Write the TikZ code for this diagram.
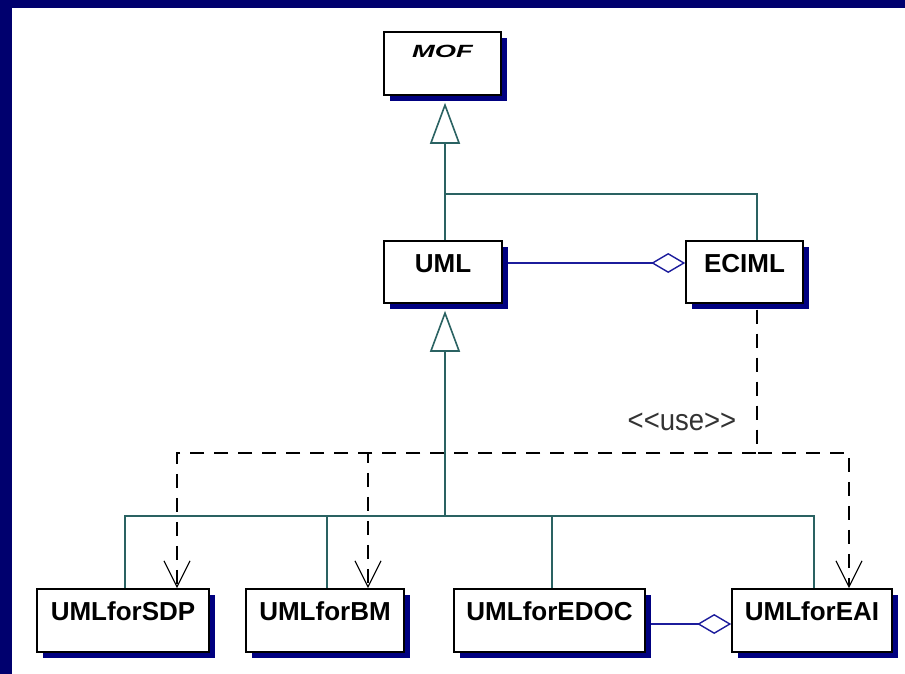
\documentclass[tikz,border=0pt]{standalone}
\usepackage{graphicx}
\usepackage{fontspec}
\setmainfont{Liberation Sans}
\usetikzlibrary{arrows.meta,calc,shadows}
\definecolor{navyb}{HTML}{00006E}
\definecolor{shad}{HTML}{000080}
\definecolor{teal2}{HTML}{2A6262}
\definecolor{aggc}{HTML}{1C1C9C}
\tikzset{
 cls/.style={draw=black, line width=1.6pt, fill=white, inner sep=0pt,
   text height=20pt, text depth=20pt,
   font=\fontsize{26}{26}\selectfont\bfseries,
   general shadow={fill=shad, shadow xshift=6pt, shadow yshift=-6pt}},
 gen/.style={draw=teal2, line width=1.6pt},
 genarrow/.style={gen, -{Triangle[open, length=41pt, width=30pt, fill=white]}},
 agg/.style={draw=aggc, line width=1.4pt, -{Diamond[open, length=34pt, width=20pt, fill=white]}},
 dep/.style={draw=black, line width=1.6pt, dash pattern=on 14pt off 10pt,
   -{Straight Barb[length=26pt, width=26pt, line width=1.2pt]}},
 lbl/.style={inner sep=0pt, text=black!80, font=\fontsize{25}{25}\selectfont}
}
\begin{document}
\begin{tikzpicture}[x=1pt,y=-1pt]
\useasboundingbox (0,0) rectangle (905,674);
\fill[white] (0,0) rectangle (905,674);
\fill[navyb] (0,0) rectangle (905,8);
\fill[navyb] (0,0) rectangle (12,674);

% classes
\node[cls, minimum width=117pt, minimum height=63pt, text height=13pt, text depth=24pt] (mof) at (442.5,63.5) {\itshape\scalebox{1.05}[0.68]{MOF}};
\node[cls, minimum width=118pt, minimum height=62pt] (uml) at (443,272) {UML};
\node[cls, minimum width=117pt, minimum height=62pt] (eciml) at (744.5,272) {ECIML};
\node[cls, minimum width=172pt, minimum height=63pt] (sdp) at (123,620.5) {UMLforSDP};
\node[cls, minimum width=158pt, minimum height=63pt] (bm) at (325,620.5) {UMLforBM};
\node[cls, minimum width=191pt, minimum height=63pt] (edoc) at (549.5,620.5) {UMLforEDOC};
\node[cls, minimum width=160pt, minimum height=63pt] (eai) at (812,620.5) {UMLforEAI};

% generalization to MOF
\coordinate (j1) at (445,194);
\draw[gen] ($(eciml.north)+(12.5,0)$) |- (j1);
\draw[genarrow, shorten >=7pt] (uml.north -| j1) -- (mof.south -| j1);

% generalization to UML
\coordinate (j2) at (445,516);
\draw[gen] ($(sdp.north)+(2,0)$) |- (j2);
\draw[gen] ($(bm.north)+(2,0)$) |- (j2);
\draw[gen] ($(edoc.north)+(2.5,0)$) |- (j2);
\draw[gen] ($(eai.north)+(2,0)$) |- (j2);
\draw[genarrow, shorten >=7pt] (j2) -- (uml.south -| j2);

% aggregations
\draw[agg] ($(uml.east)+(5,-9)$) -- ($(eciml.west)+(0,-9)$);
\draw[agg] ($(edoc.east)+(5,3.5)$) -- ($(eai.west)+(0,3.5)$);

% dependencies
\coordinate (d0) at ($(eciml.south)+(12.5,6)$);
\coordinate (dj) at ($(d0)+(0,143)$);
\draw[dep] (d0) -- (dj) -| ($(sdp.north)+(54,0)$);
\draw[dep] (d0) -- (dj) -| ($(bm.north)+(43,0)$);
\draw[dep] (d0) -- (dj) -| ($(eai.north)+(37,0)$);
\node[lbl] (use) at (682,422) {\scalebox{1.1}[1.2]{<{}<use>{}>}};
\end{tikzpicture}
\end{document}
